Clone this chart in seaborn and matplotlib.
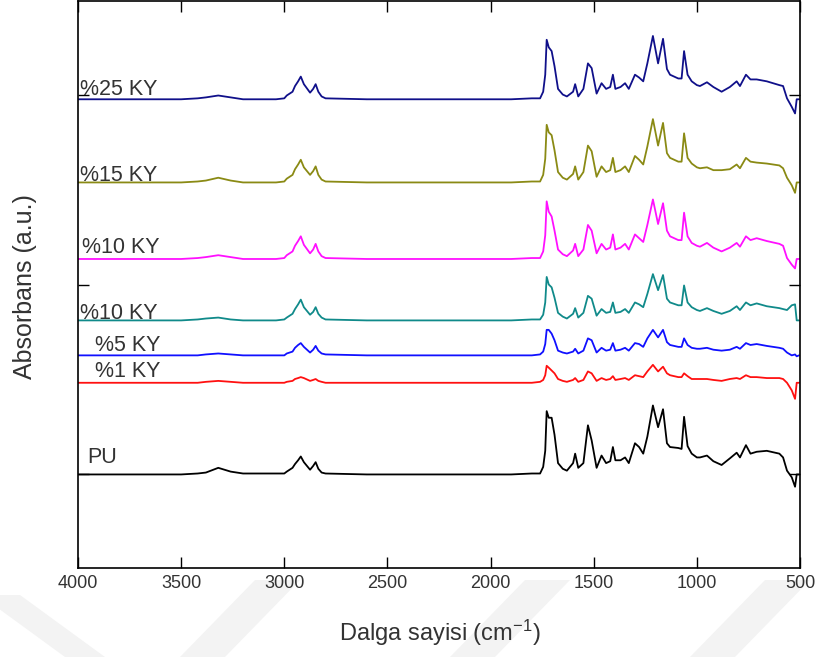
import numpy as np
import pandas as pd
import matplotlib
matplotlib.use("Agg")
import matplotlib.pyplot as plt
from matplotlib.patches import Polygon
import seaborn as sns

# Shared wavenumber grid (cm-1), descending
wavenumber = [
    4000, 3900, 3800, 3700, 3600, 3500, 3420, 3380, 3320, 3260,
    3200, 3100, 3040, 3000, 2988, 2960, 2948, 2933, 2920, 2905,
    2875, 2860, 2848, 2835, 2819, 2800, 2600, 2400, 2200, 2000,
    1900, 1800, 1760, 1745, 1735, 1728, 1718, 1704, 1690, 1673,
    1650, 1630, 1600, 1590, 1575, 1550, 1528, 1510, 1486, 1462,
    1440, 1420, 1407, 1395, 1370, 1348, 1330, 1300, 1280, 1260,
    1240, 1213, 1188, 1164, 1145, 1130, 1090, 1074, 1062, 1045,
    1025, 1000, 985, 951, 920, 880, 840, 807, 791, 762,
    740, 710, 661, 600, 582, 563, 540, 524, 516, 505,
]

# Absorbance above each trace's own baseline (a.u.)
ky25 = [
    0, 0, 0, 0, 0, 0, 1, 2, 4, 2,
    0, 0, 0, 1, 4, 8, 14, 19, 24, 16,
    7, 11, 16, 8, 3, 1, 0, 0, 0, 0,
    0, 1, 1, 8, 26, 63, 55, 51, 35, 11,
    5, 3, 8, 16, 3, 11, 38, 33, 6, 17,
    11, 13, 26, 11, 13, 17, 11, 26, 23, 19,
    38, 67, 38, 64, 32, 26, 22, 22, 51, 26,
    19, 15, 14, 18, 13, 8, 13, 19, 14, 26,
    21, 21, 19, 15, 14, 1, -8, -15, 0, 0,
]
ky15 = [
    0, 0, 0, 0, 0, 0, 1, 2, 5, 2,
    0, 0, 0, 1, 4, 8, 14, 19, 24, 16,
    8, 12, 17, 8, 3, 1, 0, 0, 0, 0,
    0, 1, 1, 8, 25, 61, 53, 50, 34, 11,
    5, 3, 9, 17, 3, 11, 39, 33, 6, 17,
    11, 13, 26, 11, 13, 17, 11, 28, 24, 19,
    38, 67, 39, 63, 31, 26, 22, 22, 52, 26,
    20, 16, 15, 16, 13, 13, 14, 19, 15, 26,
    22, 21, 20, 18, 15, 5, -3, -11, 0, 0,
]
ky10a = [
    0, 0, 0, 0, 0, 0, 1, 2, 4, 2,
    0, 0, 0, 1, 4, 8, 14, 19, 24, 15,
    6, 10, 16, 8, 3, 1, 0, 0, 0, 0,
    0, 1, 1, 8, 25, 61, 50, 45, 30, 10,
    5, 3, 9, 16, 3, 10, 36, 30, 6, 16,
    10, 12, 26, 10, 12, 16, 10, 26, 22, 18,
    36, 63, 37, 59, 30, 24, 20, 20, 49, 24,
    17, 14, 13, 17, 12, 8, 12, 17, 13, 24,
    20, 22, 19, 16, 14, 1, -6, -10, 0, 0,
]
ky10b = [
    0, 0, 0, 0, 0, 0, 1, 2, 3, 1,
    0, 0, 0, 1, 3, 7, 12, 17, 22, 14,
    6, 9, 14, 7, 3, 1, 0, 0, 0, 0,
    0, 1, 1, 6, 19, 46, 38, 35, 24, 8,
    4, 2, 7, 13, 3, 8, 26, 23, 5, 12,
    8, 9, 19, 8, 9, 12, 8, 19, 17, 14,
    28, 49, 32, 48, 23, 19, 16, 16, 37, 19,
    14, 11, 10, 13, 10, 7, 10, 15, 11, 19,
    16, 18, 15, 13, 12, 11, 16, 17, 0, 0,
]
ky5 = [
    0, 0, 0, 0, 0, 0, 0, 1, 2, 1,
    0, 0, 0, 0, 2, 4, 8, 11, 13, 9,
    3, 6, 10, 5, 2, 1, 0, 0, 0, 0,
    0, 0, 1, 4, 12, 27, 27, 23, 16, 5,
    3, 2, 4, 7, 2, 5, 18, 16, 3, 8,
    5, 6, 13, 5, 6, 8, 5, 13, 12, 9,
    18, 27, 19, 27, 14, 11, 9, 9, 18, 11,
    8, 7, 7, 8, 6, 5, 6, 9, 7, 13,
    11, 12, 10, 8, 7, 3, 0, 1, -1, 0,
]
ky1 = [
    0, 0, 0, 0, 0, 0, 0, 1, 2, 1,
    0, 0, 0, 0, 1, 2, 4, 5, 6, 5,
    2, 3, 4, 2, 1, 0, 0, 0, 0, 0,
    0, 0, 1, 3, 8, 18, 16, 13, 10, 4,
    2, 1, 3, 5, 1, 3, 12, 10, 2, 5,
    3, 4, 7, 3, 4, 5, 3, 8, 7, 6,
    12, 19, 12, 17, 10, 8, 6, 6, 10, 7,
    4, 4, 4, 4, 3, 2, 4, 5, 4, 8,
    6, 6, 5, 5, 4, 0, -8, -17, 0, 0,
]
pu = [
    0, 0, 0, 0, 0, 0, 1, 2, 7, 3,
    1, 1, 1, 1, 3, 7, 11, 15, 19, 13,
    5, 9, 13, 6, 2, 1, 0, 0, 0, 0,
    0, 1, 1, 8, 25, 67, 60, 60, 42, 12,
    6, 4, 12, 22, 7, 12, 52, 36, 7, 20,
    12, 14, 29, 15, 15, 18, 12, 33, 29, 22,
    40, 73, 50, 69, 33, 29, 28, 27, 61, 30,
    22, 18, 18, 20, 14, 10, 17, 23, 18, 31,
    22, 24, 25, 22, 18, 4, -3, -13, 0, 0,
]

series_keys = ["ky25", "ky15", "ky10a", "ky10b", "ky5", "ky1", "pu"]
series_labels = ["%25 KY", "%15 KY", "%10 KY", "%10 KY", "%5 KY", "%1 KY", "PU"]
series_values = [ky25, ky15, ky10a, ky10b, ky5, ky1, pu]
series_offsets = [496, 408, 327, 262, 225, 196, 99]
series_colors = ["#10108a", "#8a8a14", "#ff10ff", "#108a8a", "#1010ff", "#ff1010", "#000000"]

# Label anchors (wavenumber, absorbance)
label_x = [3990, 3990, 3981, 3990, 3918, 3918, 3956]
label_y = [500, 409, 333, 264, 230, 202, 111]

rows = []
for key, vals, off in zip(series_keys, series_values, series_offsets):
    for w, v in zip(wavenumber, vals):
        rows.append({"sample": key, "wavenumber": w, "absorbance": off + v})
df = pd.DataFrame(rows)

sns.set_style("white")
plt.rcParams["font.family"] = ["Liberation Sans", "DejaVu Sans"]
plt.rcParams["mathtext.fontset"] = "custom"
plt.rcParams["mathtext.rm"] = "Liberation Sans"
plt.rcParams["mathtext.it"] = "Liberation Sans"

fig = plt.figure(figsize=(8.21, 6.57), dpi=100)

# faint background watermark bands below the plot
band_color = "#f3f3f3"
bands_px = [
    [(-20, 595), (20, 595), (105, 657), (65, 657)],
    [(180, 657), (225, 657), (300, 580), (255, 580)],
    [(450, 657), (495, 657), (570, 580), (525, 580)],
    [(690, 657), (735, 657), (810, 580), (765, 580)],
]
for poly in bands_px:
    pts = [(x / 821, 1 - y / 657) for x, y in poly]
    fig.patches.append(Polygon(pts, closed=True, transform=fig.transFigure,
                               facecolor=band_color, edgecolor="none", zorder=-5))

ax = fig.add_axes([78 / 821, 1 - 568 / 657, 722 / 821, 567 / 657])
ax.set_zorder(2)
ax.set_facecolor("white")

for key, color in zip(series_keys, series_colors):
    sub = df[df["sample"] == key]
    sns.lineplot(data=sub, x="wavenumber", y="absorbance", ax=ax, color=color,
                 sort=False, estimator=None, linewidth=1.3, legend=False)

for lab, lx, ly in zip(series_labels, label_x, label_y):
    ax.text(lx, ly, lab, fontsize=15.5, color="#333333", ha="left", va="baseline")

ax.set_xlim(4000, 500)
ax.set_ylim(0, 600)
ax.set_xticks([4000, 3500, 3000, 2500, 2000, 1500, 1000, 500])
ax.set_yticks([100, 300, 500])
ax.set_yticklabels([])
ax.tick_params(axis="x", direction="in", length=8, width=1, top=True, bottom=True,
               pad=5, labelsize=13, labelcolor="#333333", color="black")
ax.tick_params(axis="y", direction="in", length=8, width=1, left=True, right=True,
               color="black")
for sp in ax.spines.values():
    sp.set_color("black")
    sp.set_linewidth(1.2)

ax.set_xlabel("")
ax.set_ylabel("")
fig.text(440 / 821, 1 - 633 / 657, "Dalga sayisi (cm$^{-1}$)", ha="center", va="center",
         fontsize=17, color="#333333", zorder=3)
fig.text(25 / 821, 1 - 287 / 657, "Absorbans (a.u.)", ha="center", va="center",
         rotation=90, fontsize=18, color="#333333", zorder=3)

fig.savefig("out.png", dpi=100)
